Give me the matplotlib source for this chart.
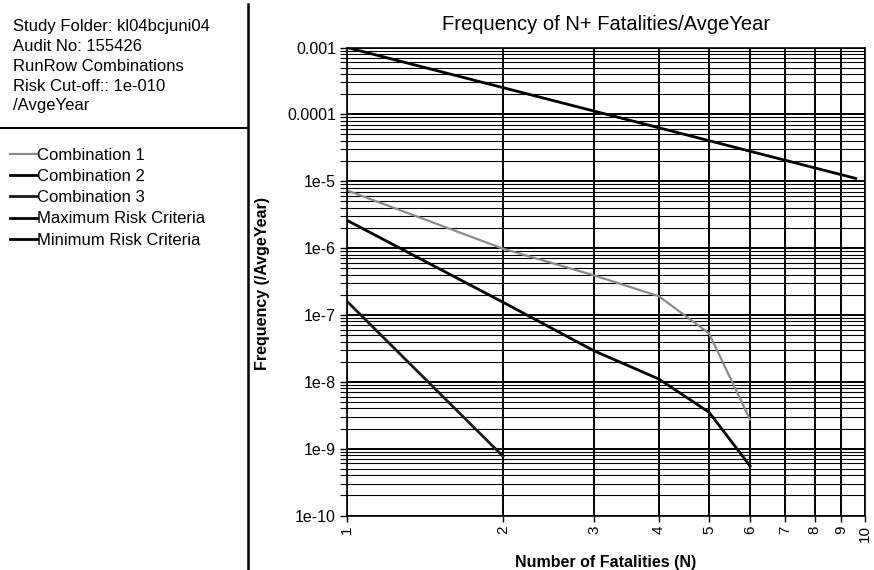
import matplotlib.pyplot as plt
from matplotlib.ticker import LogLocator, FixedLocator, NullFormatter

plt.rcParams['font.family'] = ['Liberation Sans', 'DejaVu Sans']

# header text of the report panel
info_lines = [
    'Study Folder: kl04bcjuni04',
    'Audit No: 155426',
    'RunRow Combinations',
    'Risk Cut-off:: 1e-010',
    '/AvgeYear',
]

# F-N curves
comb1_n = [1, 2, 3, 4, 5, 6]
comb1_f = [7.3e-6, 9.8e-7, 3.9e-7, 1.9e-7, 5.3e-8, 2.7e-9]

comb2_n = [1, 2, 3, 4, 5, 6]
comb2_f = [2.6e-6, 1.55e-7, 2.9e-8, 1.1e-8, 3.5e-9, 5.5e-10]

comb3_n = [1, 2]
comb3_f = [1.6e-7, 7.7e-10]

max_n = [1, 9.6]
max_f = [1e-3, 1.1e-5]

# minimum criteria line is not visible inside the plotted range
min_n = []
min_f = []

x_ticks = [1, 2, 3, 4, 5, 6, 7, 8, 9, 10]
y_ticks = [1e-3, 1e-4, 1e-5, 1e-6, 1e-7, 1e-8, 1e-9, 1e-10]
y_labels = ['0.001', '0.0001', '1e-5', '1e-6', '1e-7', '1e-8', '1e-9', '1e-10']

W, H = 874, 570
fig = plt.figure(figsize=(W / 100, H / 100), dpi=100)
ax = fig.add_axes([347 / W, 1 - 515.5 / H, 518 / W, 468 / H])

l1, = ax.plot(comb1_n, comb1_f, color='#8a8a8a', lw=1.6, label='Combination 1')
l2, = ax.plot(comb2_n, comb2_f, color='black', lw=2.0, label='Combination 2')
l3, = ax.plot(comb3_n, comb3_f, color='#1a1a1a', lw=2.0, label='Combination 3')
l4, = ax.plot(max_n, max_f, color='black', lw=2.0, label='Maximum Risk Criteria')
l5, = ax.plot(min_n, min_f, color='black', lw=2.0, label='Minimum Risk Criteria')

ax.set_xscale('log')
ax.set_yscale('log')
ax.set_xlim(1, 10)
ax.set_ylim(1e-10, 1e-3)

ax.xaxis.set_major_locator(FixedLocator(x_ticks))
ax.xaxis.set_minor_locator(FixedLocator([]))
ax.set_xticklabels([str(v) for v in x_ticks], rotation=90, fontsize=11)
ax.xaxis.set_minor_formatter(NullFormatter())

ax.yaxis.set_major_locator(FixedLocator(y_ticks))
ax.set_yticklabels(y_labels, fontsize=11.5)
ax.yaxis.set_minor_locator(LogLocator(base=10, subs=range(2, 10), numticks=20))
ax.yaxis.set_minor_formatter(NullFormatter())
ax.tick_params(axis='y', which='major', length=5, width=1, pad=3)
ax.tick_params(axis='y', which='minor', length=5, width=0.8)
ax.tick_params(axis='x', which='major', length=4, width=1, pad=3)

ax.grid(True, which='major', axis='both', color='black', lw=1.4)
ax.grid(True, which='minor', axis='y', color='black', lw=0.8)
ax.set_axisbelow(True)
for side in ax.spines.values():
    side.set_linewidth(1.2)

fig.text(606 / W, 1 - 25 / H, 'Frequency of N+ Fatalities/AvgeYear',
         fontsize=14.5, ha='center', va='center')
fig.text(262 / W, 1 - 283 / H, 'Frequency (/AvgeYear)', fontsize=11.5,
         fontweight='bold', rotation=90, ha='center', va='center')
fig.text(606 / W, 1 - 562 / H, 'Number of Fatalities (N)', fontsize=11.5,
         fontweight='bold', ha='center', va='center')

# left report panel
for i, line in enumerate(info_lines):
    fig.text(13 / W, 1 - (27 + 19.7 * i) / H, line, fontsize=12,
             va='center', ha='left')
fig.add_artist(plt.Line2D([0, 248 / W], [1 - 128 / H, 1 - 128 / H],
                          color='black', lw=1.4))
fig.add_artist(plt.Line2D([248 / W, 248 / W], [0, 1 - 4 / H],
                          color='black', lw=1.8))

fig.legend(handles=[l1, l2, l3, l4, l5], loc='upper left',
           bbox_to_anchor=(10 / W, 1 - 148 / H), frameon=False,
           fontsize=12, handlelength=1.6, handletextpad=0.0,
           labelspacing=0.37, borderaxespad=0.0, borderpad=0.0)

fig.savefig('out.png', dpi=100)
